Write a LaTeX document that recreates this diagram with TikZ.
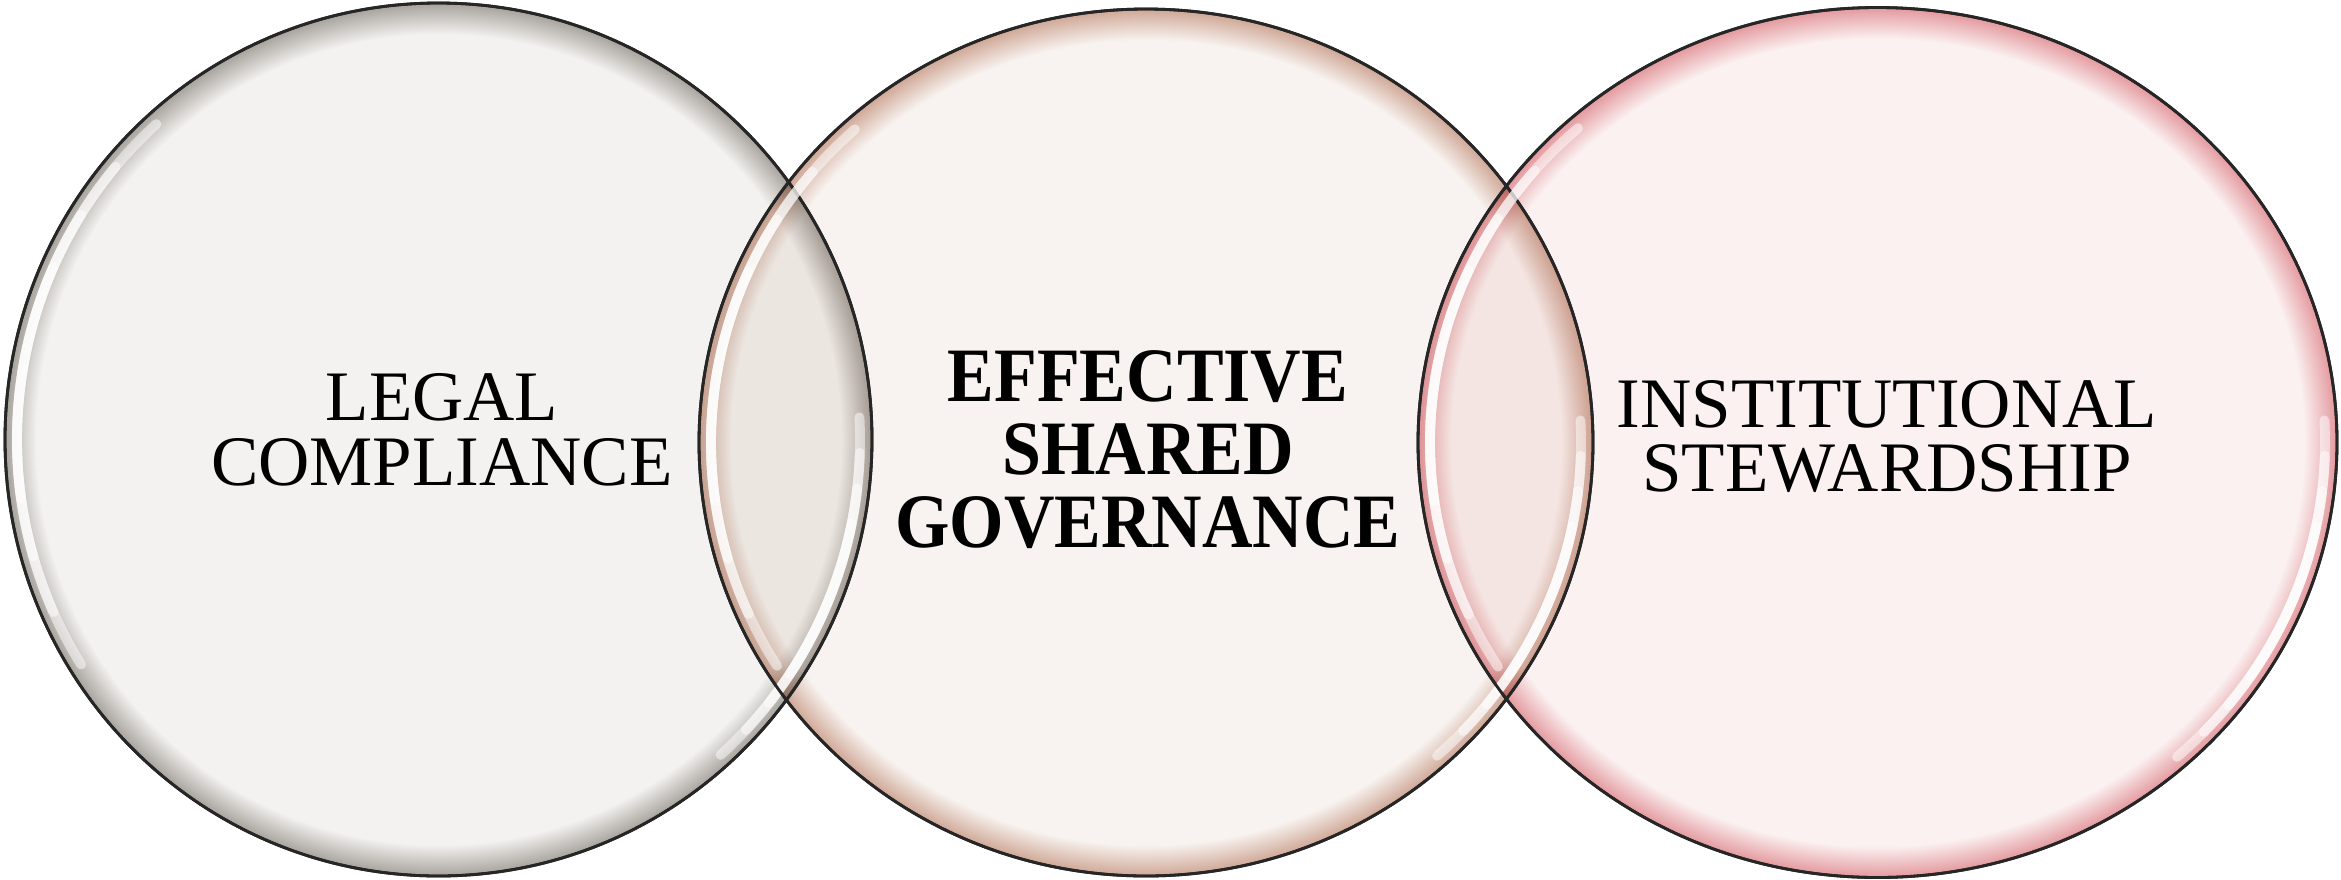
\documentclass[tikz,border=0pt]{standalone}
\usepackage{fontspec}
\setmainfont{Liberation Serif}
\definecolor{legalfill}{HTML}{F3F2F0}
\definecolor{legalrim}{HTML}{A9A49E}
\definecolor{sharedfill}{HTML}{F8F3F0}
\definecolor{sharedrim}{HTML}{D0A998}
\definecolor{stewardfill}{HTML}{FBF1F1}
\definecolor{stewardrim}{HTML}{E49BA0}
\pgfdeclareradialshading{legalglass}{\pgfpoint{0bp}{0bp}}{color(0bp)=(legalfill); color(23.2bp)=(legalfill); color(24.95bp)=(legalrim); color(50bp)=(legalrim)}
\pgfdeclareradialshading{sharedglass}{\pgfpoint{0bp}{0bp}}{color(0bp)=(sharedfill); color(23.2bp)=(sharedfill); color(24.95bp)=(sharedrim); color(50bp)=(sharedrim)}
\pgfdeclareradialshading{stewardglass}{\pgfpoint{0bp}{0bp}}{color(0bp)=(stewardfill); color(23.2bp)=(stewardfill); color(24.95bp)=(stewardrim); color(50bp)=(stewardrim)}

\begin{document}
\begin{tikzpicture}[
	outline/.style={draw=black!85, line width=0.8pt},
	glint/.style={white, line width=2.8pt, line cap=round, opacity=0.5},
	plainlabel/.style={align=center, inner sep=0pt, font=\fontsize{20.2}{18.4}\selectfont},
	boldlabel/.style={align=center, inner sep=0pt, yscale=1.1, font=\fontsize{19.9}{18.9}\selectfont\bfseries}]
			\useasboundingbox (0,0) rectangle (23.41,8.79);
			% Circles
			\begin{scope}[blend group=multiply]
				\foreach \cx/\cy/\rx/\ry/\glass in {4.385/4.395/4.335/4.365/legalglass, 11.46/4.365/4.47/4.335/sharedglass, 18.775/4.365/4.595/4.35/stewardglass}
				{
					\draw[outline, shading=\glass] (\cx,\cy) ellipse [x radius=\rx, y radius=\ry];
				}
			\end{scope}
			% Highlights
			\foreach \cx/\cy/\rx/\ry in {4.385/4.395/4.335/4.365, 11.46/4.365/4.47/4.335, 18.775/4.365/4.595/4.35}
			{
				\pgfmathsetmacro{\hx}{\rx-0.12}
				\pgfmathsetmacro{\hy}{\ry-0.12}
				\foreach \d in {0,8,16,24}
				{
					\draw[glint] (\cx,\cy) ++(132+\d:\hx cm and \hy cm) arc [start angle=132+\d, end angle=212-\d, x radius=\hx, y radius=\hy];
					\draw[glint] (\cx,\cy) ++(-48+0.6*\d:\hx cm and \hy cm) arc [start angle=-48+0.6*\d, end angle=3-0.6*\d, x radius=\hx, y radius=\hy];
				}
				\draw[outline] (\cx,\cy) ellipse [x radius=\rx, y radius=\ry];
			}
			% Labels
			\node[plainlabel] (legal) at (4.42,4.49) {LEGAL\\COMPLIANCE};
			\node[boldlabel] (shared) at (11.48,4.29) {EFFECTIVE\\SHARED\\GOVERNANCE};
			\node[plainlabel] (steward) at (18.87,4.425) {INSTITUTIONAL\\STEWARDSHIP};
		\end{tikzpicture}
\end{document}
